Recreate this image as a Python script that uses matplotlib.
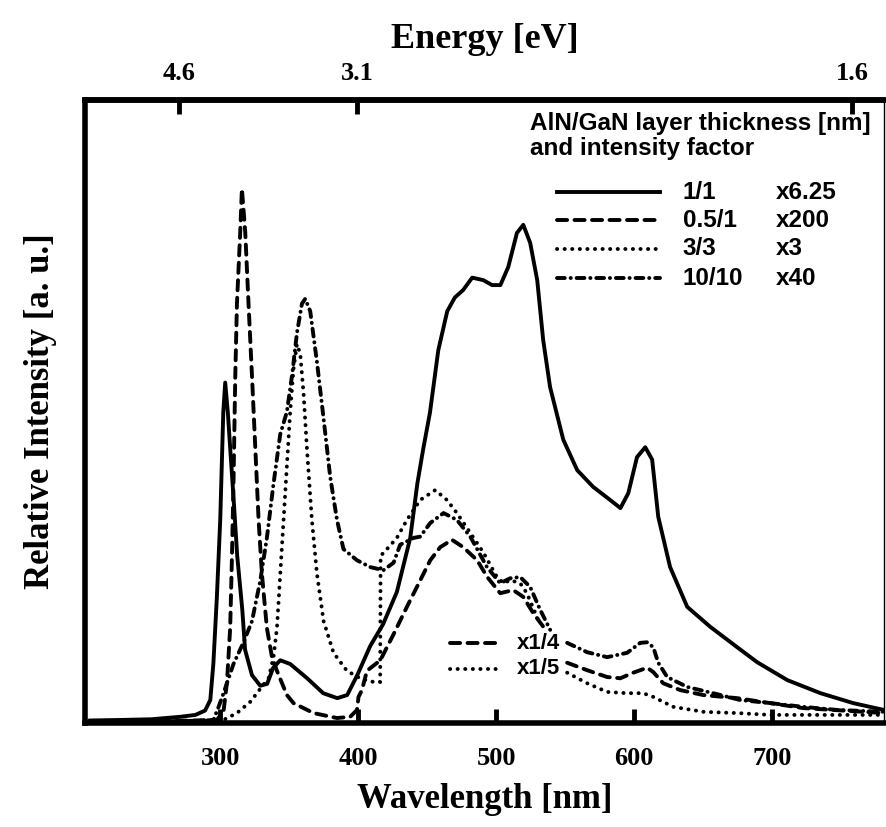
import numpy as np
import matplotlib
matplotlib.use("Agg")
import matplotlib.pyplot as plt

# ---- data (wavelength in nm, intensity in arb. units) ----
# 1/1  x6.25  (solid)
wl_11 = [205, 230, 250, 271, 282, 289, 292.8, 295, 297.5, 300, 302.2, 303.6, 305.5, 307.2, 310,
         312.3, 316, 318, 323, 329, 334, 338.4, 343.5, 350.7, 363, 374.6, 384.8, 392, 399.3, 408.7,
         418, 428, 437.7, 442.8, 447, 452, 458, 464.5, 470, 476, 482.6, 490.6, 497, 503, 508.7,
         515, 519.6, 524.6, 529.7, 534, 539, 548.6, 558.7, 570.3, 582.6, 590, 595.7, 602, 608, 613,
         617.4, 626, 638.4, 655, 674.6, 689, 711, 735, 758.7, 781]
int_11 = [0.4, 0.5, 0.6, 1.0, 1.3, 2.0, 3.7, 9.5, 20, 32.7, 50, 54.8, 50, 44.3, 35,
          26.9, 18.2, 11.8, 7.7, 6.0, 6.3, 8.9, 10.1, 9.5, 7.2, 4.8, 4.0, 4.5, 7.7, 12.4,
          15.9, 21.1, 29.8, 38.5, 44, 50, 60, 66.3, 68.5, 69.7, 71.7, 71.3, 70.5, 70.5, 73.4,
          78.9, 80.2, 77.3, 71.3, 61.7, 54.1, 45.6, 40.7, 38, 35.9, 34.6, 37, 42.8, 44.4, 42.4,
          33.2, 25.1, 18.7, 15.5, 12.2, 9.8, 6.9, 4.8, 3.2, 2.1]

# 0.5/1  x200  (dashed), tail drawn x1/4
wl_051 = [205, 250, 280, 295, 297.6, 302.4, 304.9, 307.2, 308.5, 309.6, 310.9, 312.1, 314.5, 315.7,
          318.1, 320.5, 323, 325.4, 327.8, 330.2, 333.8, 337.5, 341.1, 348.3, 353.1, 367.6, 384.6,
          394.2, 399.1, 400.2, 402.7, 406.3, 416, 425.4, 435.5, 445, 452.2, 459.4, 467.9, 476.1,
          486.2, 493.5, 502.9, 512.3, 519.6, 526.8, 534.1]
int_051 = [0.2, 0.3, 0.4, 0.5, 0.5, 1.9, 6.6, 15.3, 26.9, 38.5, 55.9, 67.5, 79.1, 86,
           79.1, 67.5, 55.9, 44.3, 32.7, 24, 15.3, 10.6, 8.4, 4.5, 3.2, 1.6, 0.8,
           1.0, 2.1, 4.2, 5.3, 8.4, 10.1, 14.2, 18.8, 23, 26.2, 28.3, 29.5, 28.3,
           26.2, 23.5, 20.9, 21.4, 20.3, 17.7, 15.5]
wl_051_tail = [551.4, 565.9, 580.4, 589.9, 599.3, 609.4, 613.8, 621, 633.3, 650, 674.6, 698.6, 722.5, 781]
int_051_tail = [9.7, 8.5, 7.4, 7.2, 8.1, 8.9, 8.2, 6.4, 5.3, 4.5, 4.0, 3.2, 2.4, 1.6]

# 3/3  x3  (dotted), tail drawn x1/5
wl_33 = [205, 260, 295, 302.4, 312.1, 321.7, 329, 335, 338.6, 341.1, 343.5, 345.9, 348.3, 350.7,
         353.1, 355.6, 358, 360.4, 362.8, 366.4, 370.1, 374.9, 382.1, 391.8, 401.4, 411.1, 415.9,
         416.2, 420.8, 428, 435.3, 444.9, 455.8, 464.3, 471.5, 481.2, 490.8, 500.5, 505.3, 510.1,
         517.4, 522.2, 528.3, 531.9]
int_33 = [0.1, 0.1, 0.2, 0.5, 1.6, 3.4, 5.5, 7.2, 10.6, 15.3, 24, 32.7, 41.4, 50.1,
          57, 61, 59.4, 53, 44.3, 32.7, 24, 16.4, 11.3, 8.4, 7.2, 6.6, 6.6,
          26.9, 28, 29.8, 32.7, 35.9, 37.5, 35.9, 33.8, 30.6, 27.4, 23.5, 22.5, 23,
          22.5, 20.9, 17.7, 15.8]
wl_33_tail = [551.4, 565.9, 580.4, 594.9, 606.5, 613.8, 628.3, 650, 674.6, 698.6, 781]
int_33_tail = [8.1, 6.4, 5.0, 4.8, 4.8, 4.2, 2.6, 1.8, 1.6, 1.3, 1.3]

# 10/10  x40  (dash-dot)
wl_1010 = [205, 270, 290, 295.1, 298.8, 302.4, 309.6, 316.9, 323, 329, 333.8, 338.6, 343.5, 348.3,
           352, 355.6, 359.2, 361.6, 365.2, 370.1, 374.9, 379.7, 384.6, 389.3, 399.1, 408.7, 418.3,
           425.6, 430.4, 440.1, 444.9, 452.2, 461.8, 471.5, 481.2, 493.3, 502.9, 510.1, 517.4,
           524.6, 531.9, 539.1]
int_1010 = [0.2, 0.3, 0.4, 0.5, 2.6, 4.8, 9.5, 13, 16.4, 22.9, 29.8, 38.5, 46.5, 50.1,
            55.9, 62.8, 67.5, 68.3, 66.3, 58.1, 49, 39.6, 32.7, 28, 26.2, 25.1, 24.6,
            25.8, 28.7, 29.8, 30, 32.2, 33.8, 32.7, 30, 25.1, 22.5, 23.3, 23.5,
            21.9, 18.2, 15]
wl_1010_tail = [551.4, 565.9, 580.4, 594.9, 604.3, 609.4, 613.8, 617.4, 623.9, 638.4, 657.2, 676.8,
                698.6, 722.5, 747.1, 781]
int_1010_tail = [12.9, 11.4, 10.6, 11.3, 12.9, 13.0, 12.2, 9.7, 7.4, 5.8, 4.8, 3.7, 3.2, 2.6, 2.1, 1.8]

thickness_labels = ["1/1", "0.5/1", "3/3", "10/10"]
factor_labels = ["x6.25", "x200", "x3", "x40"]
tail_labels = ["x1/4", "x1/5"]

wl_ticks = [300, 400, 500, 600, 700]
energy_tick_nm = [270, 399, 758]
energy_tick_labels = ["4.6", "3.1", "1.6"]

# ---- styles ----
SERIF = ["Liberation Serif", "DejaVu Serif"]
SANS = ["Liberation Sans", "DejaVu Sans"]
LW = 2.8
styles = [
    dict(linestyle="-"),
    dict(linestyle=(0, (2.6, 1.9))),
    dict(linestyle=(0, (0.05, 1.9))),
    dict(linestyle=(0, (2.0, 1.5, 0.05, 1.5))),
]

fig = plt.figure(figsize=(8.86, 8.27), dpi=100)
ax = fig.add_axes([85 / 886, 1 - 723 / 827, 799 / 886, 623 / 827])

series = [
    (wl_11, int_11, None, None),
    (wl_051, int_051, wl_051_tail, int_051_tail),
    (wl_33, int_33, wl_33_tail, int_33_tail),
    (wl_1010, int_1010, wl_1010_tail, int_1010_tail),
]
for (wl, y, wlt, yt), st in zip(series, styles):
    ax.plot(wl, y, color="black", lw=LW, solid_capstyle="round", dash_capstyle="round",
            solid_joinstyle="round", **st)
    if wlt is not None:
        ax.plot(wlt, yt, color="black", lw=LW, dash_capstyle="round", **st)

ax.set_xlim(202, 781)
ax.set_ylim(0, 100.3)

# frame
for side in ["left", "bottom", "top"]:
    ax.spines[side].set_linewidth(4)
ax.spines["right"].set_linewidth(1)

ax.set_yticks([])
ax.set_xticks(wl_ticks)
ax.set_xticklabels([str(t) for t in wl_ticks], family=SERIF, fontweight="bold", fontsize=19)
ax.tick_params(axis="x", direction="in", length=10, width=3.5, pad=17)

top = ax.secondary_xaxis("top")
top.set_xticks(energy_tick_nm)
top.set_xticklabels(energy_tick_labels, family=SERIF, fontweight="bold", fontsize=19)
top.tick_params(direction="in", length=10, width=3.5, pad=11)
top.spines["top"].set_linewidth(4)
top.set_xlabel("Energy [eV]", family=SERIF, fontweight="bold", fontsize=26, labelpad=10)

ax.set_xlabel("Wavelength [nm]", family=SERIF, fontweight="bold", fontsize=25, labelpad=10)
ax.set_ylabel("Relative Intensity [a. u.]", family=SERIF, fontweight="bold", fontsize=25, labelpad=20)

# legend (drawn by hand to keep the two text columns)
ax.text(0.557, 0.962, "AlN/GaN layer thickness [nm]", transform=ax.transAxes,
        family=SANS, fontweight="bold", fontsize=17.5, va="center", ha="left")
ax.text(0.557, 0.922, "and intensity factor", transform=ax.transAxes,
        family=SANS, fontweight="bold", fontsize=17.5, va="center", ha="left")
row_y = [0.852, 0.807, 0.761, 0.714]
for st, lab, fac, yy in zip(styles, thickness_labels, factor_labels, row_y):
    ax.plot([0.591, 0.720], [yy, yy], transform=ax.transAxes, color="black", lw=LW,
            dash_capstyle="round", **st)
    ax.text(0.748, yy, lab, transform=ax.transAxes, family=SANS, fontweight="bold",
            fontsize=17.5, va="center")
    ax.text(0.864, yy, fac, transform=ax.transAxes, family=SANS, fontweight="bold",
            fontsize=17.5, va="center")

for st, lab, yy in zip(styles[1:3], tail_labels, [0.128, 0.087]):
    ax.plot([0.457, 0.522], [yy, yy], transform=ax.transAxes, color="black", lw=LW,
            dash_capstyle="round", **st)
    ax.text(0.541, yy, lab, transform=ax.transAxes, family=SANS, fontweight="bold",
            fontsize=16, va="center")

fig.savefig("out.png", dpi=100)
